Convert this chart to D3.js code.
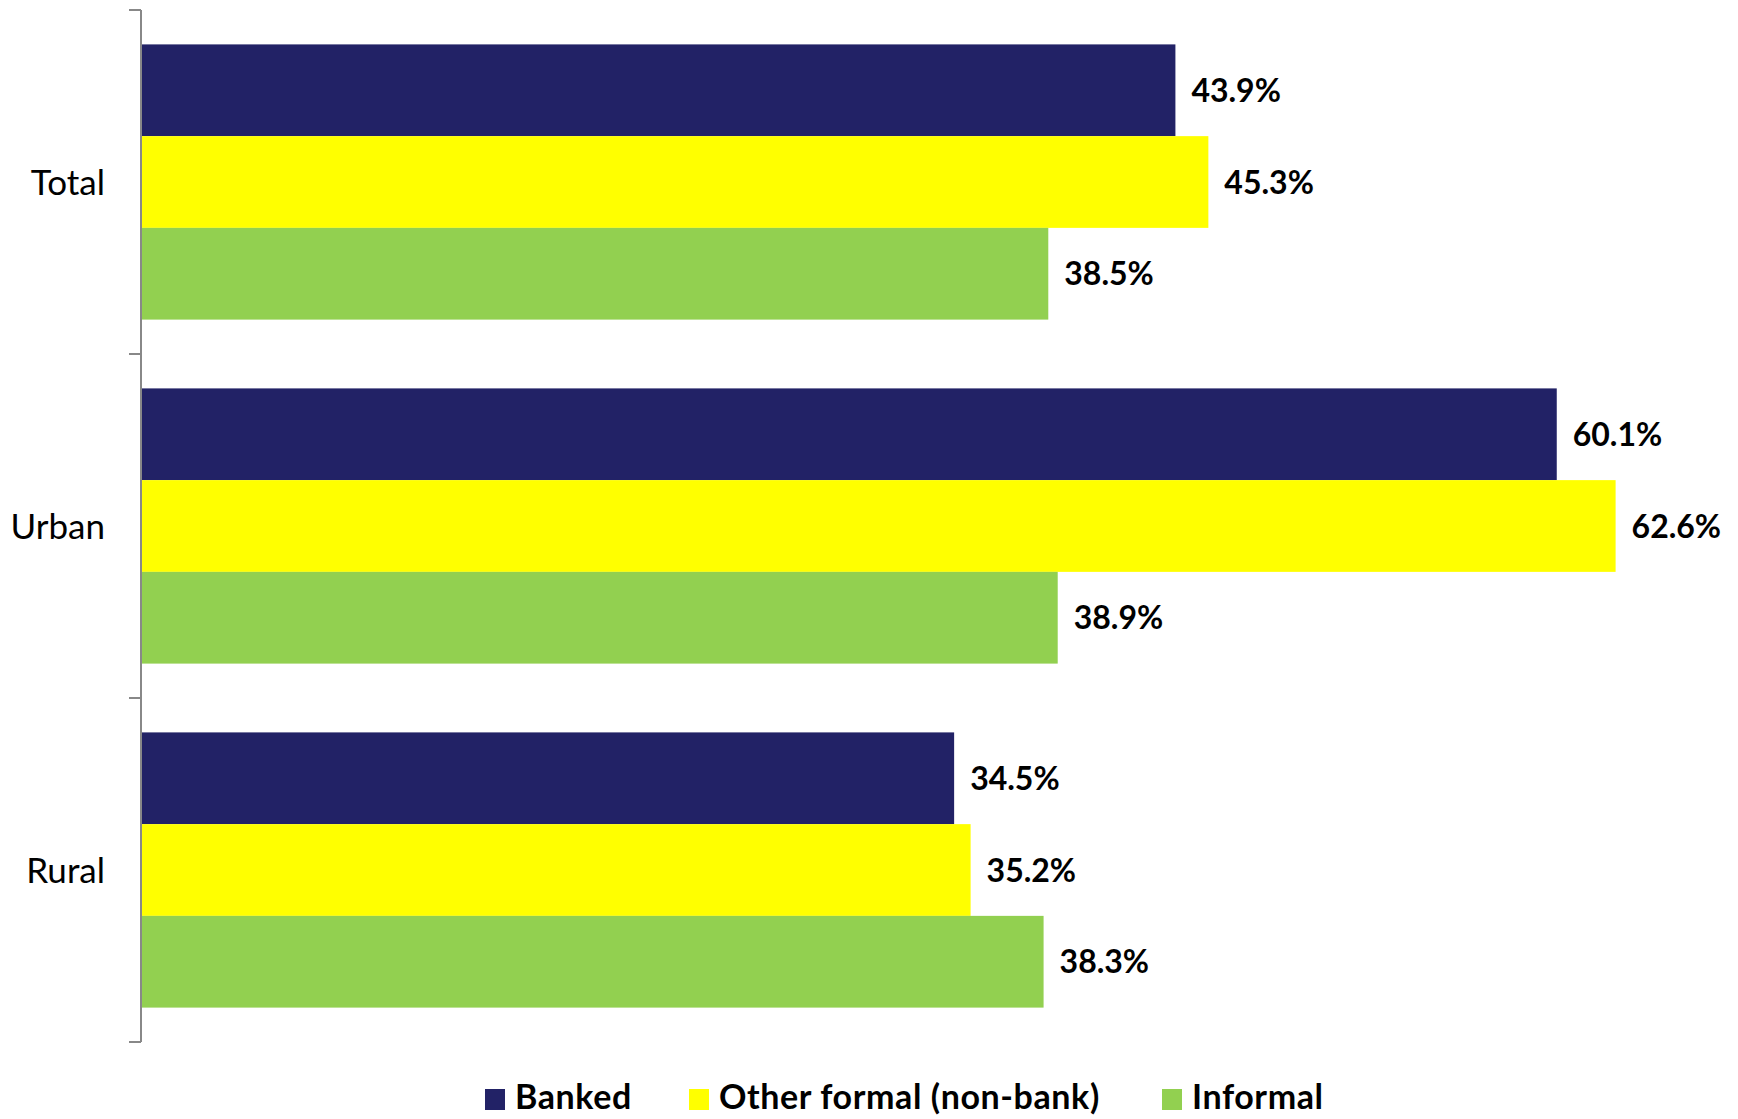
<!DOCTYPE html>
<html>
<head>
<meta charset="utf-8">
<script src="https://cdn.jsdelivr.net/npm/d3@7"></script>
<style>
  html, body { margin: 0; padding: 0; background: #fff; }
  svg { display: block; }
</style>
</head>
<body>
<svg id="chart" width="1738" height="1119"></svg>
<script>
// Share of respondents by channel, per area
const categories = ["Total", "Urban", "Rural"];
const seriesNames = ["Banked", "Other formal (non-bank)", "Informal"];
const banked = [43.9, 60.1, 34.5];
const otherFormal = [45.3, 62.6, 35.2];
const informal = [38.5, 38.9, 38.3];
const seriesValues = [banked, otherFormal, informal];
const seriesColors = ["#222266", "#FFFF00", "#92D050"];

const svg = d3.select("#chart");

const axisX = 141;
const plotTop = 10, plotBottom = 1042;

const x = d3.scaleLinear().domain([0, 70]).range([axisX + 1, axisX + 1 + 70 * 23.54]);
const y = d3.scaleBand().domain(categories).range([plotTop, plotBottom])
  .paddingInner(0.2).paddingOuter(0.1);
const ySub = d3.scaleBand().domain(seriesNames).range([0, y.bandwidth()]);

const fontFamily = "Lato, 'Open Sans', sans-serif";

// Bars
const groups = svg.append("g").selectAll("g")
  .data(categories).join("g")
  .attr("transform", d => `translate(0,${y(d)})`);

groups.selectAll("rect")
  .data((c, i) => seriesNames.map((s, j) => ({ s, j, v: seriesValues[j][i] })))
  .join("rect")
  .attr("x", x(0))
  .attr("y", d => ySub(d.s))
  .attr("width", d => x(d.v) - x(0))
  .attr("height", ySub.bandwidth())
  .attr("fill", d => seriesColors[d.j]);

// Value labels
groups.selectAll("text")
  .data((c, i) => seriesNames.map((s, j) => ({ s, j, v: seriesValues[j][i] })))
  .join("text")
  .attr("x", d => x(d.v) + 16)
  .attr("y", d => ySub(d.s) + ySub.bandwidth() / 2)
  .attr("dy", "0.36em")
  .attr("font-family", fontFamily)
  .attr("font-weight", "bold")
  .attr("font-size", 32)
  .attr("fill", "#000")
  .text(d => d.v.toFixed(1) + "%");

// Category axis with ticks at band boundaries
const axisG = svg.append("g").attr("stroke", "#888").attr("stroke-width", 2);
axisG.append("line")
  .attr("x1", axisX).attr("x2", axisX)
  .attr("y1", plotTop).attr("y2", plotBottom);
const step = y.step();
d3.range(categories.length + 1).forEach(i => {
  const ty = plotTop + i * step;
  axisG.append("line")
    .attr("x1", axisX - 12).attr("x2", axisX)
    .attr("y1", ty).attr("y2", ty);
});

svg.append("g").selectAll("text")
  .data(categories).join("text")
  .attr("x", 105)
  .attr("y", d => y(d) + y.bandwidth() / 2)
  .attr("dy", "0.36em")
  .attr("text-anchor", "end")
  .attr("font-family", fontFamily)
  .attr("font-size", 35)
  .attr("fill", "#000")
  .text(d => d);

// Legend
const legendItems = [
  { name: seriesNames[0], color: seriesColors[0], x: 485 },
  { name: seriesNames[1], color: seriesColors[1], x: 689 },
  { name: seriesNames[2], color: seriesColors[2], x: 1162 }
];
const legendY = 1097;
const lg = svg.append("g").selectAll("g").data(legendItems).join("g")
  .attr("transform", d => `translate(${d.x},${legendY})`);
lg.append("rect")
  .attr("x", 0).attr("y", -8).attr("width", 20).attr("height", 21)
  .attr("fill", d => d.color);
lg.append("text")
  .attr("x", 30).attr("y", 0).attr("dy", "0.36em")
  .attr("font-family", fontFamily)
  .attr("font-weight", "bold")
  .attr("font-size", 34)
  .attr("letter-spacing", "0.6px")
  .attr("fill", "#000")
  .text(d => d.name);
</script>
</body>
</html>
